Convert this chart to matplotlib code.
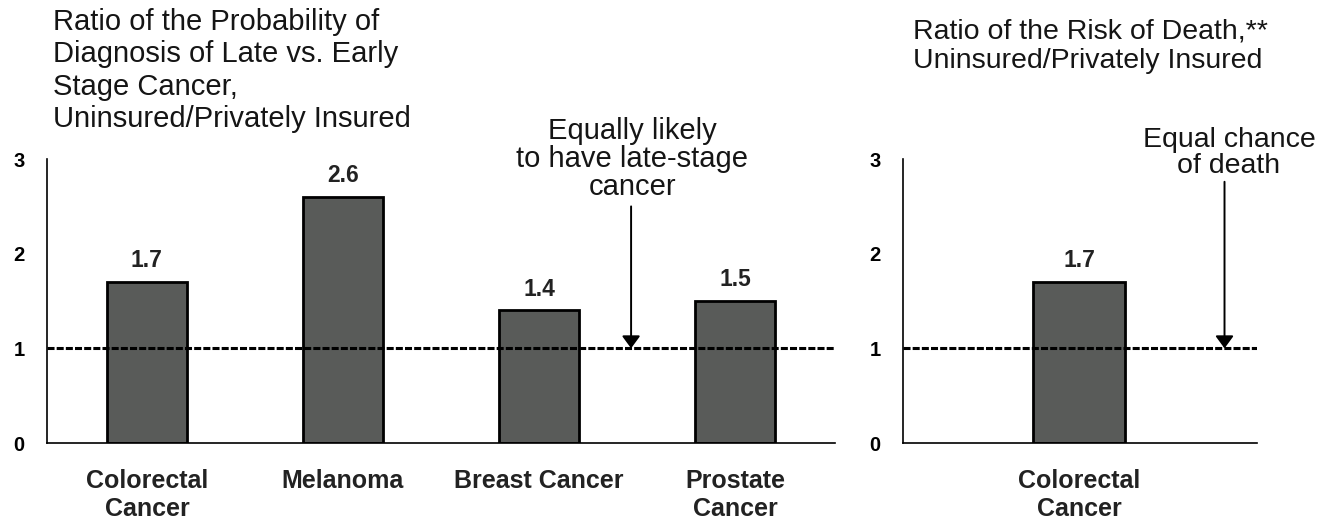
import matplotlib.pyplot as plt

plt.rcParams['font.family'] = ['Liberation Sans', 'DejaVu Sans']

# late vs. early stage diagnosis ratios
stage_labels = ['Colorectal\nCancer', 'Melanoma', 'Breast Cancer', 'Prostate\nCancer']
stage_ratios = [1.7, 2.6, 1.4, 1.5]

# risk of death ratio
death_labels = ['Colorectal\nCancer']
death_ratios = [1.7]

y_ticks = [0, 1, 2, 3]
bar_color = '#595b59'
text_color = '#151515'

fig = plt.figure(figsize=(13.23, 5.21), dpi=100)
ax1 = fig.add_axes([0.0355, 0.1497, 0.5956, 0.545])
ax2 = fig.add_axes([0.6825, 0.1497, 0.2676, 0.545])


def style_axis(ax, labels, values, xlim):
    xs = list(range(len(labels)))
    bars = ax.bar(xs, values, width=0.41, color=bar_color, edgecolor='black',
                  linewidth=2, zorder=2)
    ax.bar_label(bars, labels=[f'{v:.1f}' for v in values], padding=7,
                 fontsize=16.5, fontweight='bold', color='#222222')
    # reference line at ratio 1 (no difference)
    ax.axhline(1, color='black', linestyle=(0, (2.3, 0.7)), linewidth=2.2, zorder=3)
    ax.set_xlim(*xlim)
    ax.set_ylim(0, 3)
    ax.set_yticks(y_ticks)
    ax.set_yticklabels([str(t) for t in y_ticks], fontsize=14.5, fontweight='bold')
    ax.set_xticks(xs)
    ax.set_xticklabels(labels, fontsize=18, fontweight='bold', color='#222222',
                       linespacing=1.2)
    ax.tick_params(axis='both', length=0)
    ax.tick_params(axis='y', pad=16)
    ax.tick_params(axis='x', pad=19)
    for side in ['top', 'right']:
        ax.spines[side].set_visible(False)
    for side in ['left', 'bottom']:
        ax.spines[side].set_linewidth(1.2)


style_axis(ax1, stage_labels, stage_ratios, (-0.51, 3.51))
style_axis(ax2, death_labels, death_ratios, (-0.786, 0.795))

arrow = dict(arrowstyle='-|>,head_length=0.75,head_width=0.55', color='black',
             linewidth=1.4, shrinkA=0, shrinkB=0)
ax1.annotate('', xy=(2.47, 1.0), xytext=(2.47, 2.5), arrowprops=arrow)
ax1.text(2.475, 2.56, 'Equally likely\nto have late-stage\ncancer', ha='center',
         va='bottom', fontsize=21, linespacing=1.0, color=text_color)

ax2.annotate('', xy=(0.65, 1.0), xytext=(0.65, 2.76), arrowprops=arrow)
ax2.text(0.67, 2.79, 'Equal chance\nof death', ha='center', va='bottom',
         fontsize=20.5, linespacing=1.0, color=text_color)

fig.text(0.040, 0.985, 'Ratio of the Probability of\nDiagnosis of Late vs. Early\n'
         'Stage Cancer,\nUninsured/Privately Insured', ha='left', va='top',
         fontsize=21, linespacing=1.2, color=text_color)
fig.text(0.690, 0.965, 'Ratio of the Risk of Death,**\nUninsured/Privately Insured',
         ha='left', va='top', fontsize=20.5, linespacing=1.2, color=text_color)

fig.savefig('out.png', dpi=100)
